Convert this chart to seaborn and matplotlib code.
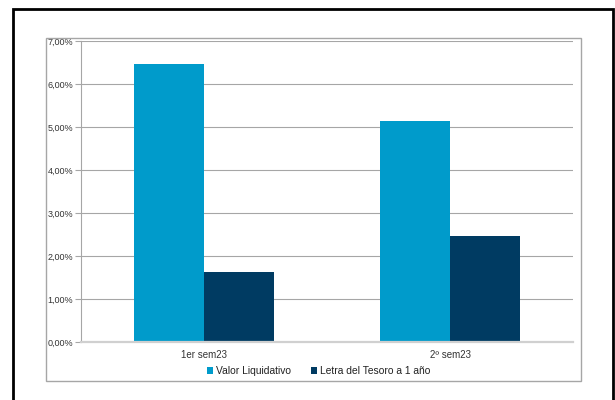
import pandas as pd
import seaborn as sns
import matplotlib.pyplot as plt
from matplotlib.patches import Rectangle
from matplotlib.ticker import FuncFormatter

# Datos
periodos = ['1er sem23', '2º sem23']
series = ['Valor Liquidativo', 'Letra del Tesoro a 1 año']
valor_liquidativo = [6.47, 5.15]
letra_tesoro = [1.63, 2.46]

df = pd.DataFrame({
    'periodo': periodos * 2,
    'serie': [series[0]] * 2 + [series[1]] * 2,
    'valor': valor_liquidativo + letra_tesoro,
})

sns.set_style('white')
plt.rcParams['font.family'] = ['Liberation Sans', 'DejaVu Sans']

fig = plt.figure(figsize=(6.15, 4.0), dpi=100)
ax = fig.add_axes([81/615, 1 - 342/400, 492/615, (342 - 41)/400])

colores = ['#009BCB', '#003B62']
sns.barplot(data=df, x='periodo', y='valor', hue='serie', palette=colores,
            width=0.573, saturation=1, linewidth=0, ax=ax, zorder=3)

ax.set_ylim(0, 7)
ax.set_yticks(range(8))
ax.yaxis.set_major_formatter(FuncFormatter(lambda v, p: f'{v:.2f}%'.replace('.', ',')))
ax.grid(axis='y', color='#A6A6A6', lw=0.8, zorder=0)
ax.set_xlabel('')
ax.set_ylabel('')

for s in ['top', 'right']:
    ax.spines[s].set_visible(False)
ax.spines['left'].set_color('#A6A6A6')
ax.spines['left'].set_linewidth(0.8)
ax.spines['bottom'].set_color('#D0D0D0')
ax.spines['bottom'].set_linewidth(1.6)
ax.spines['bottom'].set_zorder(4)

ax.tick_params(axis='y', left=True, length=4, width=0.8, color='#A6A6A6',
               labelsize=6.5, labelcolor='#333333', pad=1.5)
ax.tick_params(axis='x', bottom=False, labelsize=7, labelcolor='#333333', pad=2)

ax.legend(loc='upper center', bbox_to_anchor=(0.483, -0.05), ncol=2, frameon=False,
          fontsize=7.4, handlelength=0.6, handleheight=0.6, handletextpad=0.3,
          columnspacing=1.9, labelcolor='#222222')

# marcos
fig.patches.append(Rectangle((46/615, 1 - 381/400), 535/615, 343/400,
                             transform=fig.transFigure, fill=False,
                             ec='#A6A6A6', lw=1))
fig.patches.append(Rectangle((13/615, -0.05), 600/615, 1.05 - 9/400,
                             transform=fig.transFigure, fill=False,
                             ec='black', lw=2))

fig.savefig('out.png', dpi=100)
